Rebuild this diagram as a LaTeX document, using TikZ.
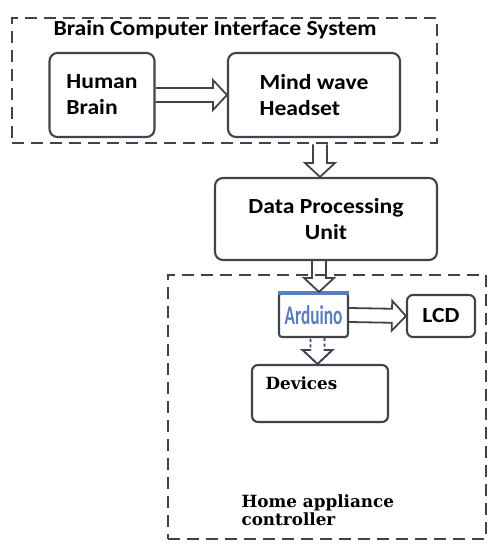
\documentclass[tikz,border=0pt]{standalone}
\usepackage{fontspec}
\usetikzlibrary{arrows.meta,calc}
\newfontfamily\calfont[FakeStretch=1.1]{Carlito}
\newfontfamily\ardfont[FakeStretch=0.64]{Carlito}
\newfontfamily\serfont{DejaVu Serif}
\definecolor{linegray}{HTML}{3E444B}
\definecolor{ardblue}{HTML}{5B7DBD}
\begin{document}
\begin{tikzpicture}[x=1pt, y=-1pt,
  box/.style={draw=linegray, line width=2.1pt, rounded corners=8pt, fill=white},
  groupbox/.style={draw=linegray, line width=2.8pt, dash pattern=on 12pt off 7pt, inner sep=0pt},
  blockarrow/.style={draw=linegray, line width=1.8pt, line join=miter,
    to path={
      ($(\tikztostart)!7pt!90:(\tikztotarget)$)
      -- ($(\tikztotarget)!15.65pt!-26.57:(\tikztostart)$)
      -- ($(\tikztotarget)!20.52pt!-46.97:(\tikztostart)$)
      -- (\tikztotarget)
      -- ($(\tikztotarget)!20.52pt!46.97:(\tikztostart)$)
      -- ($(\tikztotarget)!15.65pt!26.57:(\tikztostart)$)
      -- ($(\tikztostart)!7pt!-90:(\tikztotarget)$)}},
  arrowhead/.style={draw=linegray, line width=1.8pt, line join=miter,
    to path={
      ($(\tikztotarget)!15.65pt!-26.57:(\tikztostart)$)
      -- ($(\tikztotarget)!20.52pt!-46.97:(\tikztostart)$)
      -- (\tikztotarget)
      -- ($(\tikztotarget)!20.52pt!46.97:(\tikztostart)$)
      -- ($(\tikztotarget)!15.65pt!26.57:(\tikztostart)$)}},
  boxtext/.style={font=\calfont\bfseries\fontsize{21.5}{26}\selectfont},
  devtext/.style={font=\serfont\bfseries\fontsize{16.8}{18}\selectfont}
]
\useasboundingbox (0,0) rectangle (488,544);

% Gruppi tratteggiati
\node[groupbox, minimum width=425pt, minimum height=125pt] (bci) at (224.5,80.5) {};
\node[groupbox, minimum width=318pt, minimum height=264pt] (hac) at (327,407) {};

% Sistema BCI
\node[boxtext, anchor=west] (bcititle) at (50,30) {Brain Computer Interface System};
\node[box, boxtext, align=left, minimum width=105pt, minimum height=84pt] (brain) at (102,95) {Human\\Brain};
\node[box, boxtext, align=left, minimum width=172pt, minimum height=84pt] (headset) at (314,95) {Mind wave\\Headset};

% Elaborazione
\node[box, boxtext, align=center, minimum width=222pt, minimum height=82pt] (dpu) at (326,219) {Data Processing\\Unit};

% Controllore
\node[box, rounded corners=3pt, minimum width=69pt, minimum height=44pt, inner sep=0pt, text=ardblue,
  font=\ardfont\bfseries\fontsize{27}{28}\selectfont] (arduino) at (313.5,315) {Arduino};
\draw[ardblue, line width=4pt] ([yshift=-1pt]arduino.north west) -- ([yshift=-1pt]arduino.north east);
\node[box, boxtext, rounded corners=6pt, minimum width=68pt, minimum height=42pt] (lcd) at (441,316) {LCD};
\node[box, rounded corners=6pt, minimum width=136pt, minimum height=57pt] (devices) at (320,393.5) {};
\node[devtext, anchor=west] (devlabel) at (262,383) {Devices};
\node[devtext, anchor=north west, align=left] (haclabel) at (238,491) {Home appliance\\controller};

% Frecce
\draw[blockarrow] (brain.east) to (headset.west);
\draw[blockarrow] ([xshift=-6pt]dpu.north |- bci.south) to ([xshift=-6pt]dpu.north);
\draw[blockarrow] ([xshift=-7pt]dpu.south) to ([xshift=-7pt]dpu.south |- arduino.north);
\draw[blockarrow] (arduino.east) to (lcd.west);
\draw[blockarrow, dash pattern=on 3pt off 2.5pt] ([xshift=4pt]arduino.south) to ([xshift=4pt]arduino.south |- devices.north);
\draw[arrowhead] ([xshift=4pt]arduino.south) to ([xshift=4pt]arduino.south |- devices.north);

\end{tikzpicture}
\end{document}
